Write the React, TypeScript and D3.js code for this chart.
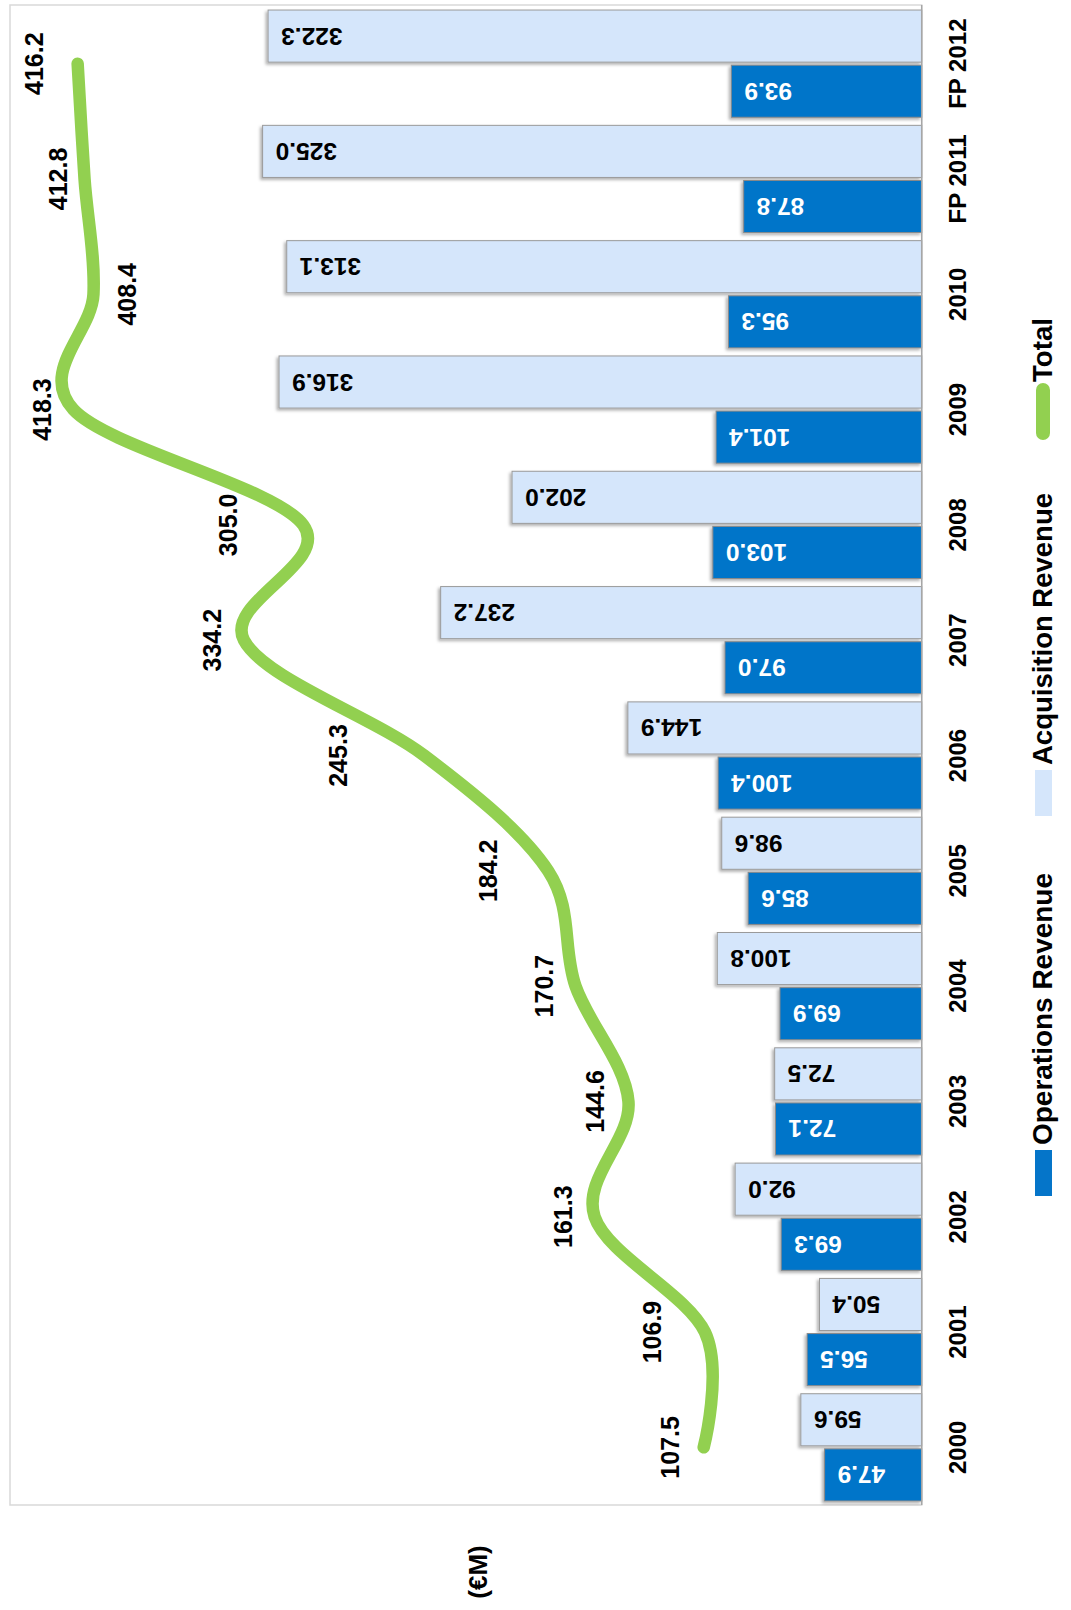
import React from "react";
import * as d3 from "d3";

const categories = ["2000", "2001", "2002", "2003", "2004", "2005", "2006", "2007", "2008", "2009", "2010", "FP 2011", "FP 2012"];
const operationsRevenue = [47.9, 56.5, 69.3, 72.1, 69.9, 85.6, 100.4, 97.0, 103.0, 101.4, 95.3, 87.8, 93.9];
const acquisitionRevenue = [59.6, 50.4, 92.0, 72.5, 100.8, 98.6, 144.9, 237.2, 202.0, 316.9, 313.1, 325.0, 322.3];
const totalRevenue = [107.5, 106.9, 161.3, 144.6, 170.7, 184.2, 245.3, 334.2, 305.0, 418.3, 408.4, 412.8, 416.2];
// label placement tweaks (pixels, along the value axis) for the total labels
const totalLabelDx = [-34, -53, -32, -33, -31.5, -60, -86, -32, -75, -31, 34, -26.5, -43.6];

const FONT = "'Liberation Sans', Arial, sans-serif";
const OPS_COLOR = "#0575C9";
const ACQ_COLOR = "#D5E6FB";
const TOTAL_COLOR = "#92D050";

export default function App() {
  const plotLeft = 10;
  const base = 921.7;
  const top = 6;
  const bottom = 1505;

  const x = d3.scaleLinear().domain([0, 450]).range([base, base - 450 * 2.028]);
  const y = d3
    .scaleBand<string>()
    .domain(categories)
    .range([bottom, top])
    .paddingInner(0.07)
    .paddingOuter(0.035);
  const sub = d3
    .scaleBand<string>()
    .domain(["acq", "ops"])
    .range([0, y.bandwidth()])
    .paddingInner(0.055);

  const center = (c: string) => (y(c) as number) + y.bandwidth() / 2;

  const linePts: [number, number][] = categories.map((c, i) => [x(totalRevenue[i]), center(c)]);
  const line = d3.line().curve(d3.curveCardinal.tension(0))(linePts) || "";

  return (
    <svg
      width={1071}
      height={1610}
      style={{ position: "absolute", left: 0, top: 0, background: "#fff" }}
      fontFamily={FONT}
    >
      <defs>
        <filter id="sh" x="-10%" y="-20%" width="120%" height="140%">
          <feDropShadow dx={-2} dy={2} stdDeviation={1.5} floodColor="#000" floodOpacity={0.3} />
        </filter>
      </defs>
      {/* plot area border */}
      <rect x={plotLeft} y={top - 1} width={base - plotLeft} height={bottom - top + 1} fill="none" stroke="#d9d9d9" strokeWidth={1.5} />

      {/* bars */}
      {categories.map((c, i) => {
        const y0 = y(c) as number;
        const ya = y0 + (sub("acq") as number);
        const yo = y0 + (sub("ops") as number);
        const bw = sub.bandwidth();
        const va = acquisitionRevenue[i];
        const vo = operationsRevenue[i];
        return (
          <g key={c}>
            <rect x={x(va)} y={ya} width={base - x(va)} height={bw} fill={ACQ_COLOR} stroke="#9a9a9a" strokeWidth={1} filter="url(#sh)" />
            <rect x={x(vo)} y={yo} width={base - x(vo)} height={bw} fill={OPS_COLOR} stroke="#8a8a8a" strokeWidth={1} filter="url(#sh)" />
            <text
              transform={`translate(${x(va) + 13},${ya + bw / 2}) rotate(180)`}
              textAnchor="end"
              dominantBaseline="central"
              fontSize={24.5}
              fontWeight="bold"
              fill="#000"
            >
              {va.toFixed(1)}
            </text>
            <text
              transform={`translate(${x(vo) + 13},${yo + bw / 2}) rotate(180)`}
              textAnchor="end"
              dominantBaseline="central"
              fontSize={24.5}
              fontWeight="bold"
              fill="#fff"
            >
              {vo.toFixed(1)}
            </text>
          </g>
        );
      })}

      {/* value axis baseline */}
      <line x1={base} x2={base} y1={top - 1} y2={bottom} stroke="#a6a6a6" strokeWidth={1.5} />

      {/* category labels */}
      {categories.map((c) => (
        <text
          key={c}
          transform={`translate(966,${center(c)}) rotate(-90)`}
          textAnchor="middle"
          fontSize={24}
          fontWeight="bold"
          fill="#000"
        >
          {c}
        </text>
      ))}

      {/* total line */}
      <path d={line} fill="none" stroke={TOTAL_COLOR} strokeWidth={12.5} strokeLinecap="round" strokeLinejoin="round" />
      {categories.map((c, i) => (
        <text
          key={"t" + c}
          transform={`translate(${x(totalRevenue[i]) + totalLabelDx[i] + 9},${center(c)}) rotate(-90)`}
          textAnchor="middle"
          fontSize={25}
          fontWeight="bold"
          fill="#000"
        >
          {totalRevenue[i].toFixed(1)}
        </text>
      ))}

      {/* legend */}
      <rect x={1035} y={1150} width={17} height={46} fill={OPS_COLOR} />
      <text transform="translate(1052,1145) rotate(-90)" fontSize={28} fontWeight="bold" textLength={272} lengthAdjust="spacingAndGlyphs">
        Operations Revenue
      </text>
      <rect x={1035} y={770} width={17} height={46} fill={ACQ_COLOR} />
      <text transform="translate(1052,765) rotate(-90)" fontSize={28} fontWeight="bold" textLength={272} lengthAdjust="spacingAndGlyphs">
        Acquisition Revenue
      </text>
      <line x1={1043} x2={1043} y1={390} y2={433} stroke={TOTAL_COLOR} strokeWidth={14} strokeLinecap="round" />
      <text transform="translate(1052,382) rotate(-90)" fontSize={28} fontWeight="bold" textLength={64} lengthAdjust="spacingAndGlyphs">
        Total
      </text>

      {/* unit label */}
      <text transform="translate(487,1572) rotate(-90)" textAnchor="middle" fontSize={26} fontWeight="bold">
        (€M)
      </text>
    </svg>
  );
}
